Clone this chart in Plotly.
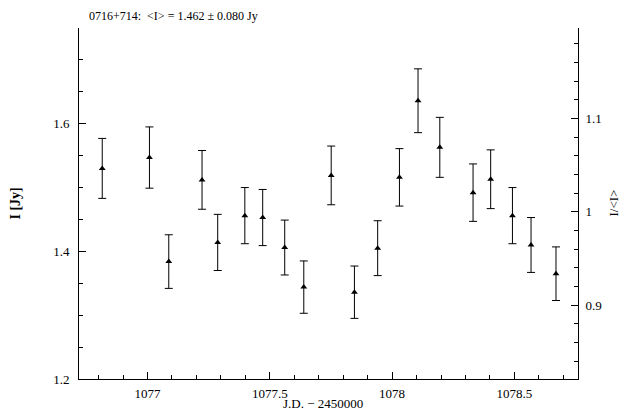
import plotly.graph_objects as go

# Data
jd = [1076.815, 1077.008, 1077.087, 1077.223, 1077.287, 1077.398, 1077.471,
      1077.561, 1077.639, 1077.751, 1077.846, 1077.941, 1078.030, 1078.106,
      1078.195, 1078.331, 1078.403, 1078.492, 1078.568, 1078.670]
flux = [1.530, 1.547, 1.384, 1.512, 1.414, 1.456, 1.453, 1.406, 1.344, 1.519,
        1.336, 1.405, 1.516, 1.636, 1.563, 1.492, 1.513, 1.456, 1.410, 1.365]
err = [0.047, 0.048, 0.042, 0.046, 0.044, 0.044, 0.044, 0.043, 0.041, 0.046,
       0.041, 0.043, 0.045, 0.050, 0.047, 0.045, 0.046, 0.044, 0.043, 0.042]

mean_flux = 1.462
title_text = "0716+714:  &lt;I&gt; = 1.462 ± 0.080 Jy"
x_range = [1076.72, 1078.76]
y_range = [1.2, 1.75]

FONT = "Liberation Serif"

fig = go.Figure()
fig.add_trace(go.Scatter(
    x=jd, y=flux, mode="markers",
    marker=dict(symbol="triangle-up", size=6, color="black"),
    error_y=dict(type="data", array=err, visible=True, color="black",
                 thickness=1, width=4),
    showlegend=False, xaxis="x", yaxis="y",
))
# invisible trace for the right-hand normalised axis
fig.add_trace(go.Scatter(
    x=[jd[0]], y=[flux[0] / mean_flux], mode="markers",
    marker=dict(opacity=0), showlegend=False, hoverinfo="skip",
    xaxis="x", yaxis="y2",
))

axis_common = dict(showline=True, linecolor="black", linewidth=1,
                   ticks="inside", tickcolor="black", ticklen=7, tickwidth=1,
                   showgrid=False, zeroline=False, automargin=False,
                   tickfont=dict(family=FONT, size=13, color="black"))

fig.update_layout(
    width=626, height=410,
    margin=dict(l=79, r=48, t=28, b=31),
    paper_bgcolor="white", plot_bgcolor="white",
    xaxis=dict(range=x_range, tickvals=[1077, 1077.5, 1078, 1078.5],
               ticktext=["1077", "1077.5", "1078", "1078.5"],
               minor=dict(dtick=0.1, tick0=1077, ticks="inside", ticklen=4,
                          tickcolor="black", showgrid=False),
               ticklabelstandoff=2, **axis_common),
    xaxis2=dict(range=x_range, overlaying="x", side="top", matches="x",
                tickvals=[1077, 1077.5, 1078, 1078.5], showticklabels=False,
                minor=dict(dtick=0.1, tick0=1077, ticks="inside", ticklen=4,
                           tickcolor="black", showgrid=False),
                **axis_common),
    yaxis=dict(range=y_range, tickvals=[1.2, 1.4, 1.6],
               ticktext=["1.2", "1.4", "1.6"],
               minor=dict(dtick=0.05, tick0=1.2, ticks="inside", ticklen=4,
                          tickcolor="black", showgrid=False),
               ticklabelstandoff=6, **axis_common),
    yaxis2=dict(range=[y_range[0] / mean_flux, y_range[1] / mean_flux],
                overlaying="y", side="right",
                tickvals=[0.9, 1.0, 1.1], ticktext=["0.9", "1", "1.1"],
                minor=dict(dtick=0.02, tick0=0.8, ticks="inside", ticklen=4,
                           tickcolor="black", showgrid=False),
                ticklabelstandoff=4, **axis_common),
    annotations=[
        dict(text=title_text, xref="paper", yref="paper",
             x=(87 - 79) / 499, y=(379 - 16) / 351,
             xanchor="left", yanchor="middle", showarrow=False,
             font=dict(family=FONT, size=12, color="black")),
        dict(text="<b>I [Jy]</b>", xref="paper", yref="paper",
             x=(15 - 79) / 499, y=0.5, textangle=-90,
             xanchor="center", yanchor="middle", showarrow=False,
             font=dict(family=FONT, size=14, color="black")),
        dict(text="I/&lt;I&gt;", xref="paper", yref="paper",
             x=(613 - 79) / 499, y=0.5, textangle=-90,
             xanchor="center", yanchor="middle", showarrow=False,
             font=dict(family=FONT, size=13, color="black")),
        dict(text="J.D. − 2450000", xref="paper", yref="paper",
             x=(323 - 79) / 499, y=(379 - 403) / 351,
             xanchor="center", yanchor="middle", showarrow=False,
             font=dict(family=FONT, size=13, color="black")),
    ],
)

fig.write_html("out.html")
